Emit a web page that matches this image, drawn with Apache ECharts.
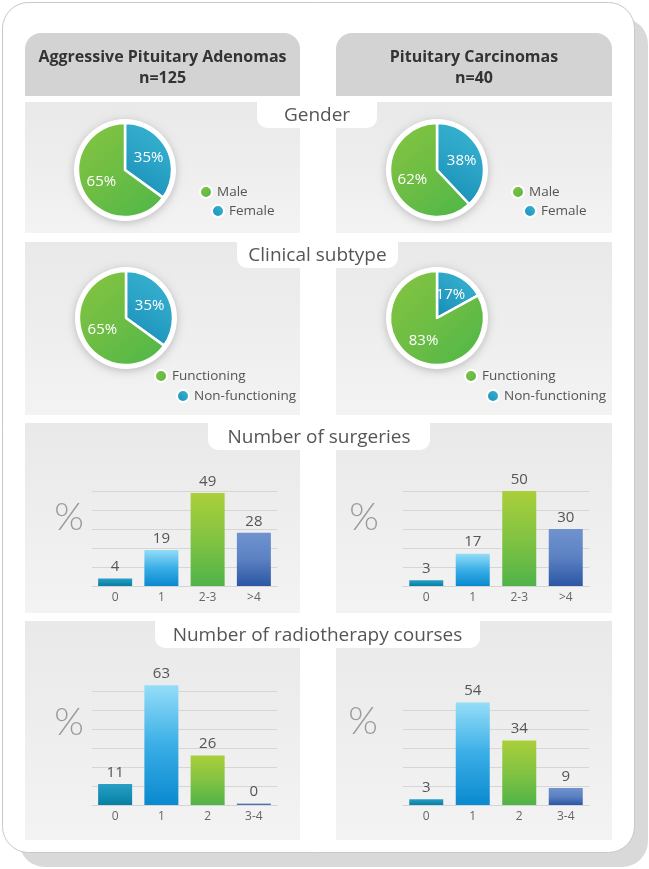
<!DOCTYPE html>
<html><head><meta charset="utf-8">
<script src="https://cdn.jsdelivr.net/npm/echarts@6/dist/echarts.min.js"></script>
<style>html,body{margin:0;padding:0;background:#fff}#c{width:649px;height:869px}</style>
</head><body><div id="c"></div><script>
// ---- data ----
const groupTitles = ['Aggressive Pituitary Adenomas', 'Pituitary Carcinomas'];
const groupN = ['n=125', 'n=40'];
const sectionTitles = ['Gender', 'Clinical subtype', 'Number of surgeries', 'Number of radiotherapy courses'];
const genderNames = ['Female', 'Male'];
const genderAPA = [35, 65];
const genderPC = [38, 62];
const subtypeNames = ['Non-functioning', 'Functioning'];
const subtypeAPA = [35, 65];
const subtypePC = [17, 83];
const surgeryCats = ['0', '1', '2-3', '>4'];
const surgeryAPA = [4, 19, 49, 28];
const surgeryPC = [3, 17, 50, 30];
const radioCats = ['0', '1', '2', '3-4'];
const radioAPA = [11, 63, 26, 0];
const radioPC = [3, 54, 34, 9];
const surgeryMax = 50, radioMaxAPA = 60, radioMaxPC = 50;

// ---- styling ----
const FONT = '"Open Sans", Lato, sans-serif';
const G = echarts.graphic;
const lin = (x0,y0,x1,y1,stops) => new G.LinearGradient(x0,y0,x1,y1,stops.map((c,i)=>({offset:i/(stops.length-1),color:c})));
const pieBlue = lin(0,1,1,0,['#168ab3','#2aa3c6','#3cb6d2']);
const pieGreen = lin(0,0,1,1,['#86c541','#6dbd44','#4db748']);
const barPalette = [
  ['#2a9fc3','#1590b6','#0b7da1'],
  ['#94ddf8','#3aaee6','#0a89cf'],
  ['#aacf3a','#82c342','#50b348'],
  ['#7093cf','#5c81c2','#2a56a5']
];

const chart = echarts.init(document.getElementById('c'), null, {renderer:'canvas'});

function pieSeries(names, vals, cx, cy){
  return {
    type:'pie', center:[cx,cy], radius:[0,47], startAngle:90, clockwise:true,
    z:5, silent:true,
    itemStyle:{borderColor:'#fff', borderWidth:2.5},
    label:{show:true, position:'inside', formatter:'{c}%', color:'#fff', fontSize:15, fontFamily:FONT},
    labelLine:{show:false},
    data: names.map((n,i)=>({name:n, value:vals[i], itemStyle:{color: i===0?pieBlue:pieGreen}}))
  };
}
function barData(vals){
  return vals.map((v,i)=>({value:v, itemStyle:{color: lin(0,0,0,1,barPalette[i])}}));
}
function barSeries(vals, gi){
  return {
    type:'bar', xAxisIndex:gi, yAxisIndex:gi, barWidth:34, barMinHeight:1.5, clip:false, z:5,
    label:{show:true, position:'top', distance:4, color:'#555', fontSize:15, fontFamily:FONT},
    data: barData(vals)
  };
}

const grids = [
  {left:92, top:491, width:185, height:95},
  {left:403, top:491, width:186, height:95},
  {left:92, top:691, width:185, height:114},
  {left:403, top:710, width:186, height:95}
];
const cats = [surgeryCats, surgeryCats, radioCats, radioCats];
const maxes = [surgeryMax, surgeryMax, radioMaxAPA, radioMaxPC];

function legendAt(name, dotX, dotY){
  return {
    data:[name], left:dotX-6, top:dotY-9, orient:'horizontal', padding:0,
    icon:'circle', itemWidth:12, itemHeight:12, selectedMode:false,
    textStyle:{color:'#555', fontSize:13.5, fontFamily:FONT}
  };
}

// ---- background graphics ----
const els = [];
els.push({type:'rect', shape:{x:19,y:18,width:629,height:849,r:26}, style:{fill:'#d9d9d9'}, z:-10});
els.push({type:'rect', shape:{x:2.5,y:2.5,width:632,height:850,r:26}, style:{fill:'#fff', stroke:'#c8c8c8', lineWidth:1}, z:-9});
const colX = [[25,275],[336,276]];
colX.forEach((c,i)=>{
  els.push({type:'rect', shape:{x:c[0],y:33,width:c[1],height:63,r:[16,16,0,0]}, style:{fill:'#d3d3d3'}, z:-8});
  els.push({type:'text', style:{text:groupTitles[i]+'\n'+groupN[i], x:c[0]+c[1]/2, y:68, align:'center', verticalAlign:'middle',
    fontSize:16, fontWeight:'bold', fontFamily:FONT, fill:'#333', lineHeight:21}, z:-7});
});
const rows = [[102,233],[242,415],[423,613],[621,840]];
rows.forEach(r=>{
  colX.forEach(c=>{
    els.push({type:'rect', shape:{x:c[0],y:r[0],width:c[1],height:r[1]-r[0]},
      style:{fill: lin(0,0,0,1,['#e9e9e9','#eeeeee','#f3f3f3'])}, z:-8});
  });
});
const tabs = [[257,102,120,26],[237,242,161,26],[208,423,222,27],[155,621,325,27]];
tabs.forEach((t,i)=>{
  els.push({type:'rect', shape:{x:t[0],y:t[1]-1,width:t[2],height:t[3]+1,r:[0,0,10,10]}, style:{fill:'#fff'}, z:-7});
  els.push({type:'text', style:{text:sectionTitles[i], x:t[0]+t[2]/2, y:t[1]+t[3]/2+1, align:'center', verticalAlign:'middle',
    fontSize:19, fontFamily:FONT, fill:'#555'}, z:-6});
});
[[69,518],[364,518],[69,723],[363,722]].forEach(p=>{
  els.push({type:'text', style:{text:'%', x:p[0], y:p[1], align:'center', verticalAlign:'middle', fontSize:38, fontWeight:300, fontFamily:'Lato, "Open Sans", sans-serif', fill:'#9a9a9a'}, z:-6});
});
[[125,170],[437,170],[126,318],[437,318]].forEach(p=>{
  els.push({type:'circle', shape:{cx:p[0],cy:p[1],r:51}, style:{fill:'#fff', shadowBlur:8, shadowColor:'rgba(0,0,0,0.22)', shadowOffsetY:2}, z:-5});
});

const option = {
  animation:false,
  backgroundColor:'#fff',
  graphic:{elements:els},
  grid: grids,
  xAxis: grids.map((g,i)=>({type:'category', gridIndex:i, data:cats[i],
    axisLine:{show:true, lineStyle:{color:'#d4d4d4'}}, axisTick:{show:false},
    axisLabel:{color:'#666', fontSize:12, margin:6, fontFamily:FONT}})),
  yAxis: grids.map((g,i)=>({type:'value', gridIndex:i, min:0, max:maxes[i], interval:10,
    axisLabel:{show:false}, axisLine:{show:false}, axisTick:{show:false},
    splitLine:{lineStyle:{color:'#d6d6d6', width:1}}})),
  legend: [
    legendAt('Male',205,194), legendAt('Female',217,213),
    legendAt('Male',517,194), legendAt('Female',529,213),
    legendAt('Functioning',160,378), legendAt('Non-functioning',182,398),
    legendAt('Functioning',470,378), legendAt('Non-functioning',492,398)
  ],
  series: [
    pieSeries(genderNames, genderAPA, 125, 170),
    pieSeries(genderNames, genderPC, 437, 170),
    pieSeries(subtypeNames, subtypeAPA, 126, 318),
    pieSeries(subtypeNames, subtypePC, 437, 318),
    barSeries(surgeryAPA, 0),
    barSeries(surgeryPC, 1),
    barSeries(radioAPA, 2),
    barSeries(radioPC, 3)
  ]
};
chart.setOption(option);
</script></body></html>
